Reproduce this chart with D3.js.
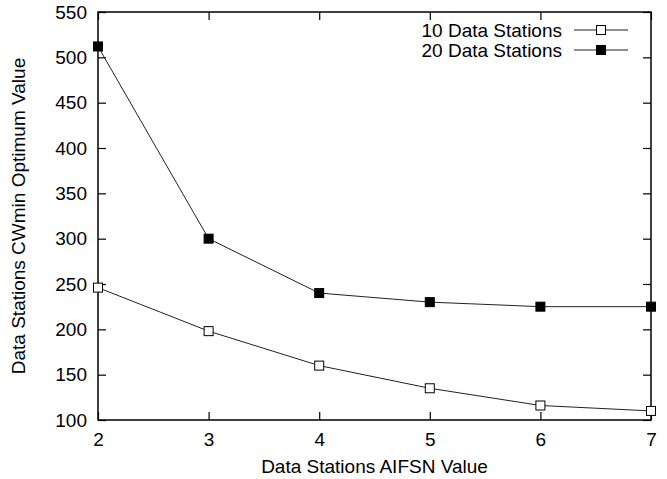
<!DOCTYPE html>
<html>
<head>
<meta charset="utf-8">
<script src="https://cdn.jsdelivr.net/npm/d3@7"></script>
<style>
  body { margin: 0; background: #fff; }
  svg text { font-family: "Liberation Sans", Arial, sans-serif; font-size: 19px; fill: #000; }
</style>
</head>
<body>
<div id="chart"></div>
<script>
// AIFSN values on the x axis
const aifsn = [2, 3, 4, 5, 6, 7];
// CWmin optimum
const tenStations = [246, 198, 160, 135, 116, 110];
const twentyStations = [512, 300, 240, 230, 225, 225];
const seriesNames = ["10 Data Stations", "20 Data Stations"];
const yTicks = [100, 150, 200, 250, 300, 350, 400, 450, 500, 550];

const width = 667, height = 479;
const margin = {top: 12, right: 16, bottom: 59, left: 98};

const svg = d3.select("#chart").append("svg")
  .attr("width", width)
  .attr("height", height);

const x = d3.scaleLinear().domain([2, 7]).range([margin.left, width - margin.right]);
const y = d3.scaleLinear().domain([100, 550]).range([height - margin.bottom, margin.top]);

const tickLen = 8;

// ticks on all four sides, gnuplot style
svg.append("g")
  .attr("transform", `translate(0,${y(100)})`)
  .call(d3.axisBottom(x).tickValues(aifsn).tickSize(-tickLen).tickPadding(13).tickFormat(d3.format("d")))
  .call(g => g.select(".domain").remove());
svg.append("g")
  .attr("transform", `translate(0,${y(550)})`)
  .call(d3.axisTop(x).tickValues(aifsn).tickSize(-tickLen).tickFormat(""))
  .call(g => g.select(".domain").remove());
svg.append("g")
  .attr("transform", `translate(${x(2)},0)`)
  .call(d3.axisLeft(y).tickValues(yTicks).tickSize(-tickLen).tickPadding(11))
  .call(g => g.select(".domain").remove());
svg.append("g")
  .attr("transform", `translate(${x(7)},0)`)
  .call(d3.axisRight(y).tickValues(yTicks).tickSize(-tickLen).tickFormat(""))
  .call(g => g.select(".domain").remove());

svg.selectAll(".tick line").attr("stroke", "#000").attr("stroke-width", 1.2);
svg.selectAll(".tick text").style("font-size", "19px").attr("font-family", null);

// frame
svg.append("rect")
  .attr("x", x(2)).attr("y", y(550))
  .attr("width", x(7) - x(2)).attr("height", y(100) - y(550))
  .attr("fill", "none").attr("stroke", "#000").attr("stroke-width", 1.5);

const line = d3.line().x((d, i) => x(aifsn[i])).y(d => y(d));
const sq = 9;

function drawSeries(vals, filled) {
  svg.append("path").datum(vals)
    .attr("d", line)
    .attr("fill", "none").attr("stroke", "#222").attr("stroke-width", 1);
  svg.append("g").selectAll("rect").data(vals).enter().append("rect")
    .attr("x", (d, i) => x(aifsn[i]) - sq / 2)
    .attr("y", d => y(d) - sq / 2)
    .attr("width", sq).attr("height", sq)
    .attr("fill", filled ? "#000" : "#fff")
    .attr("stroke", "#000").attr("stroke-width", 1);
}
drawSeries(tenStations, false);
drawSeries(twentyStations, true);

// legend
const legend = svg.append("g");
seriesNames.forEach((name, i) => {
  const ly = 30 + i * 20;
  legend.append("text").attr("x", 562).attr("y", ly).attr("dy", "0.35em")
    .attr("text-anchor", "end").text(name);
  legend.append("line").attr("x1", 574).attr("x2", 628).attr("y1", ly).attr("y2", ly)
    .attr("stroke", "#222").attr("stroke-width", 1);
  legend.append("rect").attr("x", 601 - sq / 2).attr("y", ly - sq / 2)
    .attr("width", sq).attr("height", sq)
    .attr("fill", i ? "#000" : "#fff").attr("stroke", "#000");
});

// axis titles
svg.append("text")
  .attr("x", (x(2) + x(7)) / 2).attr("y", 466).attr("dy", "0.35em")
  .attr("text-anchor", "middle").text("Data Stations AIFSN Value");
svg.append("text")
  .attr("transform", `translate(18,${(y(100) + y(550)) / 2}) rotate(-90)`)
  .attr("dy", "0.35em")
  .attr("text-anchor", "middle").text("Data Stations CWmin Optimum Value");
</script>
</body>
</html>
